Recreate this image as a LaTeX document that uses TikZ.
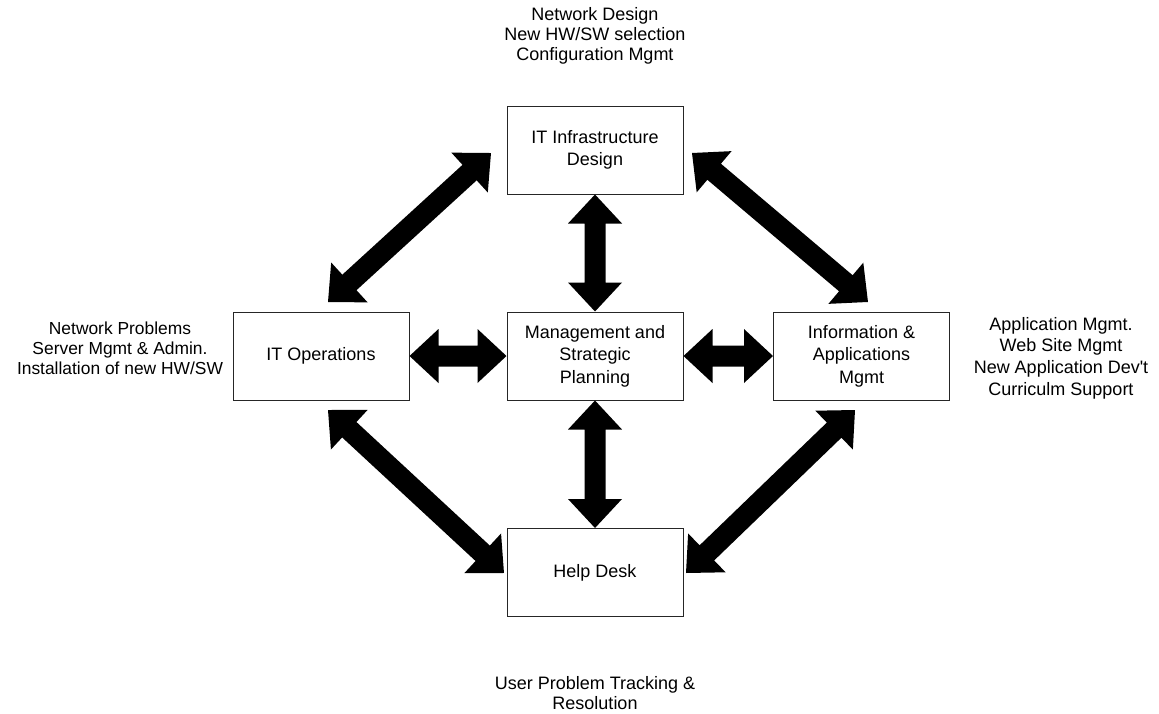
\documentclass[tikz,border=0pt]{standalone}
\usepackage{fontspec}
\setmainfont{Liberation Sans}
\usetikzlibrary{calc}

% block arrow dimensions (pt)
\def\headlen{29}
\def\headhw{27}
\def\shafthw{10.5}

% thick double-headed block arrow between two named points
\newcommand\dblblockarrow[2]{%
  \fill let \p1=(#1), \p2=(#2),
    \n1={scalar(atan2(\y2-\y1,\x2-\x1))},
    \n2={scalar(veclen(\x2-\x1,\y2-\y1))},
    \n3={scalar(\n2-\headlen)}
  in [shift={(\p1)}, rotate=\n1]
    (0pt,0pt) -- (\headlen pt,\headhw pt) -- (\headlen pt,\shafthw pt)
    -- (\n3 pt,\shafthw pt) -- (\n3 pt,\headhw pt) -- (\n2 pt,0pt)
    -- (\n3 pt,-\headhw pt) -- (\n3 pt,-\shafthw pt)
    -- (\headlen pt,-\shafthw pt) -- (\headlen pt,-\headhw pt) -- cycle;}

\tikzset{
  unit/.style={draw=black!85, line width=1pt, fill=white,
    minimum width=176pt, minimum height=88pt, inner sep=0pt,
    align=center, font=\fontsize{18}{22.5}\selectfont},
  note/.style={inner sep=0pt, align=center,
    font=\fontsize{18}{20.3}\selectfont}
}

\begin{document}
\begin{tikzpicture}[x=1pt, y=-1pt]
  \fill[white] (0,0) rectangle (1159,713);
  \useasboundingbox (0,0) rectangle (1159,713);

  % units
  \node[unit] (infra) at (595,150) {\strut IT Infrastructure\\Design\strut};
  \node[unit] (ops)   at (321,356) {IT Operations};
  \node[unit] (mgmt)  at (595,356) {\strut Management and\\Strategic\\Planning\strut};
  \node[unit] (info)  at (861.5,356) {\strut Information \&\\Applications\\Mgmt\strut};
  \node[unit] (help)  at (595,572.5) {Help Desk};

  % responsibilities
  \node[note] (infranote) at (595,36) {Network Design\\New HW/SW selection\\Configuration Mgmt};
  \node[note, font=\fontsize{17.4}{20.2}\selectfont] (opsnote) at (120,348.5)
    {Network Problems\\Server Mgmt \& Admin.\\Installation of new HW/SW};
  \node[note, font=\fontsize{18}{21.7}\selectfont] (infonote) at (1061,358)
    {Application Mgmt.\\Web Site Mgmt\\New Application Dev\textquotesingle t\\Curriculm Support};
  \node[note] (helpnote)  at (595,693) {User Problem Tracking \&\\Resolution};

  % ends of the diagonal links
  \coordinate (tlA) at (328,302);
  \coordinate (tlB) at (491,153);
  \coordinate (trA) at (692,153);
  \coordinate (trB) at (868,302);
  \coordinate (blA) at (328,410);
  \coordinate (blB) at (504,573);
  \coordinate (brA) at (855,410);
  \coordinate (brB) at (686,573);

  % links
  \dblblockarrow{infra.south}{mgmt.north}
  \dblblockarrow{mgmt.south}{help.north}
  \dblblockarrow{ops.east}{mgmt.west}
  \dblblockarrow{mgmt.east}{info.west}
  \dblblockarrow{tlA}{tlB}
  \dblblockarrow{trA}{trB}
  \dblblockarrow{blA}{blB}
  \dblblockarrow{brA}{brB}
\end{tikzpicture}
\end{document}
